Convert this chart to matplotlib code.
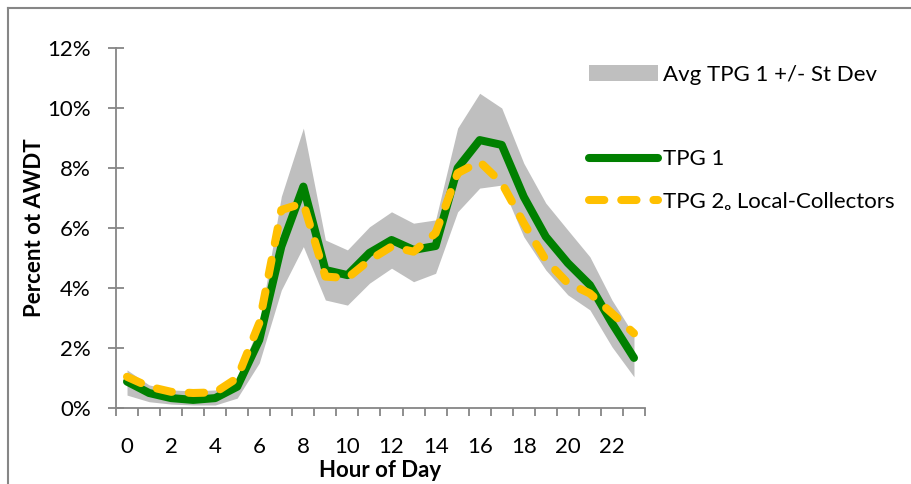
import numpy as np
import matplotlib.pyplot as plt
from matplotlib.patches import Patch
from matplotlib.lines import Line2D

hours = list(range(24))
tpg1 = [0.88, 0.50, 0.33, 0.27, 0.33, 0.71, 2.27, 5.38, 7.38, 4.60, 4.43, 5.17,
        5.60, 5.27, 5.40, 8.00, 8.93, 8.77, 7.04, 5.71, 4.83, 4.10, 2.83, 1.67]
tpg2 = [1.04, 0.71, 0.54, 0.50, 0.52, 1.00, 2.83, 6.60, 6.83, 4.38, 4.33, 4.93,
        5.38, 5.21, 5.83, 7.83, 8.21, 7.50, 6.16, 4.93, 4.16, 3.82, 3.16, 2.49]
band_hi = [1.27, 0.77, 0.60, 0.57, 0.60, 1.00, 2.75, 7.05, 9.33, 5.60, 5.27, 6.04,
           6.54, 6.16, 6.27, 9.33, 10.49, 10.00, 8.16, 6.83, 5.93, 5.04, 3.60, 2.43]
band_lo = [0.43, 0.21, 0.13, 0.10, 0.10, 0.33, 1.50, 3.93, 5.38, 3.60, 3.43, 4.16,
           4.66, 4.21, 4.49, 6.54, 7.33, 7.43, 5.71, 4.60, 3.77, 3.27, 2.04, 1.04]
yticks = [0, 2, 4, 6, 8, 10, 12]
xlabels = [0, 2, 4, 6, 8, 10, 12, 14, 16, 18, 20, 22]

plt.rcParams['font.family'] = ['Lato', 'DejaVu Sans']
axc = '#868686'

fig = plt.figure(figsize=(9.11, 4.84), dpi=100)
ax = fig.add_axes([116/911, 76/484, 529/911, 360/484])

ax.fill_between(hours, band_lo, band_hi, color='#BFBFBF', lw=0, zorder=1)
ax.plot(hours, tpg1, color='#008000', lw=5.8, solid_capstyle='round',
        solid_joinstyle='round', zorder=2)
ax.plot(hours, tpg2, color='#FFC000', lw=5.8, dashes=(1.9, 2.1),
        dash_capstyle='round', dash_joinstyle='round', zorder=3)

ax.set_xlim(-0.5, 23.5)
ax.set_ylim(0, 12)
ax.set_yticks(yticks)
ax.set_yticklabels([f'{v}%' for v in yticks])
ax.set_xticks(xlabels)
ax.set_xticklabels([str(v) for v in xlabels])
ax.set_xticks(np.arange(-0.5, 24, 1), minor=True)
ax.tick_params(axis='x', which='major', length=0, pad=21, labelsize=16)
ax.tick_params(axis='x', which='minor', length=6, width=1.3, color=axc,
               direction='out')
ax.tick_params(axis='y', length=12, width=1.3, color=axc, direction='inout',
               pad=12, labelsize=16)

for s in ['top', 'right']:
    ax.spines[s].set_visible(False)
for s in ['left', 'bottom']:
    ax.spines[s].set_color(axc)
    ax.spines[s].set_linewidth(1.3)

ax.set_xlabel('Hour of Day', fontsize=16, fontweight='bold', labelpad=2)
ax.set_ylabel('Percent ot AWDT', fontsize=16, fontweight='bold', labelpad=2)

handles = [Patch(facecolor='#BFBFBF', edgecolor='none'),
           Line2D([], [], color='none'),
           Line2D([], [], color='#008000', lw=5.8, solid_capstyle='round'),
           Line2D([], [], color='#FFC000', lw=5.8, dashes=(1.9, 2.1),
                  dash_capstyle='round')]
labels = ['Avg TPG 1 +/- St Dev', ' ', 'TPG 1', 'TPG 2\u2092 Local-Collectors']
fig.legend(handles, labels, loc='upper left', bbox_to_anchor=(589/911, 1 - 65/484),
           frameon=False, fontsize=16, handlelength=3.1, handletextpad=0.25,
           labelspacing=1.0, borderpad=0, borderaxespad=0)

# outer chart border
fig.add_artist(Line2D([8/911, 8/911], [0, 1 - 8/484], color=axc, lw=1.5,
                      transform=fig.transFigure))
fig.add_artist(Line2D([8/911, 1], [1 - 8/484, 1 - 8/484], color=axc, lw=1.5,
                      transform=fig.transFigure))

plt.savefig('out.png', dpi=100)
plt.close()
